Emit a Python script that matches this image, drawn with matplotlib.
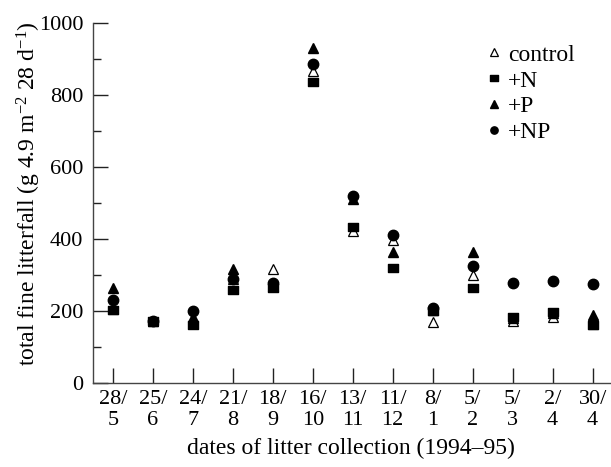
import matplotlib
matplotlib.use("Agg")
import matplotlib.pyplot as plt
from matplotlib.path import Path
from matplotlib.ticker import MultipleLocator

plt.rcParams['font.family'] = ['Liberation Serif', 'DejaVu Serif']
plt.rcParams['mathtext.fontset'] = 'custom'
plt.rcParams['mathtext.rm'] = 'Liberation Serif'
plt.rcParams['mathtext.it'] = 'Liberation Serif:italic'

dates = ["28/\n5", "25/\n6", "24/\n7", "21/\n8", "18/\n9", "16/\n10", "13/\n11",
         "11/\n12", "8/\n1", "5/\n2", "5/\n3", "2/\n4", "30/\n4"]
control = [205, 172, 178, 288, 316, 867, 423, 397, 170, 300, 173, 184, 165]
plus_n = [203, 173, 161, 258, 263, 835, 434, 320, 200, 265, 184, 198, 161]
plus_p = [265, 172, 184, 316, 270, 929, 512, 365, 203, 365, 180, 195, 189]
plus_np = [229, 172, 200, 288, 277, 886, 518, 411, 208, 326, 277, 284, 275]

# slightly wide rectangle, like the printed squares
rect = Path([(-1, -0.7), (1, -0.7), (1, 0.7), (-1, 0.7), (-1, -0.7)],
            [Path.MOVETO, Path.LINETO, Path.LINETO, Path.LINETO, Path.CLOSEPOLY])

fig = plt.figure(figsize=(6.11, 4.67), dpi=100)
ax = fig.add_axes([0.152, 0.18, 0.846, 0.771])

x = range(len(dates))
ax.plot(x, control, ls='none', marker='^', ms=7.5, mfc='white', mec='black', mew=0.9, label='control')
ax.plot(x, plus_n, ls='none', marker=rect, ms=7.5, color='black', label='+N')
ax.plot(x, plus_p, ls='none', marker='^', ms=7.5, color='black', label='+P')
ax.plot(x, plus_np, ls='none', marker='o', ms=7.5, color='black', label='+NP')

ax.set_xlim(-0.5, 12.43)
ax.set_ylim(0, 1000)
ax.set_xticks(list(x))
ax.set_xticklabels(dates, linespacing=1.15)
ax.yaxis.set_major_locator(MultipleLocator(200))
ax.yaxis.set_minor_locator(MultipleLocator(100))

for side in ('top', 'right'):
    ax.spines[side].set_visible(False)
for side in ('left', 'bottom'):
    ax.spines[side].set_color('#444444')
    ax.spines[side].set_linewidth(1.0)

ax.tick_params(axis='both', which='major', direction='in', length=11, width=1.0,
               color='#222222', labelsize=16)
ax.tick_params(axis='y', which='minor', direction='in', length=5.5, width=1.0, color='#222222')
ax.tick_params(axis='x', pad=5)
ax.tick_params(axis='y', pad=7)

ax.set_ylabel(r"total fine litterfall (g 4.9 m$^{-2}$ 28 d$^{-1}$)", fontsize=17, labelpad=4)
ax.yaxis.set_label_coords(-0.097, 0.525)
ax.set_xlabel("dates of litter collection (1994–95)", fontsize=17, labelpad=6)

leg = ax.legend(loc='upper right', bbox_to_anchor=(0.95, 0.967), frameon=False,
                fontsize=17, handlelength=0.5, handletextpad=0.35,
                labelspacing=0.18, markerscale=0.7, borderaxespad=0)

fig.savefig("out.png", dpi=100)
